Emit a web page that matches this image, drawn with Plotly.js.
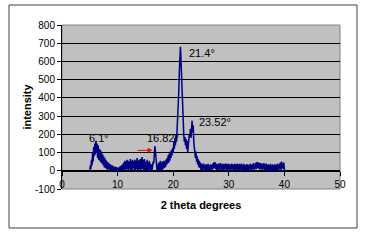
<!DOCTYPE html>
<html><head><meta charset="utf-8">
<script src="https://cdn.plot.ly/plotly-3.0.1.min.js"></script>
<style>html,body{margin:0;padding:0;background:#fff}#c{width:366px;height:242px}</style>
</head><body><div id="c"></div>
<script>
// 2-theta grid: start and step (degrees)
const thetaStart = 5.0;
const thetaStep = 0.1;
// intensity values from 5.0 to 40.0 degrees, step 0.1
const intensity = [
0,30,10,60,30,100,50,130,80,150,
90,165,100,150,70,140,60,120,55,115,
45,105,40,90,30,80,20,70,15,60,
10,50,5,45,10,40,0,35,5,30,
0,28,5,25,0,20,3,22,0,18,
0,15,0,20,5,25,0,30,5,35,
0,45,5,55,10,50,0,60,10,55,
5,50,10,65,5,55,0,60,15,50,
5,60,0,55,10,70,5,55,0,60,
10,65,5,55,75,10,60,0,65,15,
0,50,5,60,0,45,0,55,10,40,
0,35,0,30,50,40,100,135,110,60,
10,0,35,5,45,0,30,55,5,45,
0,50,10,55,15,50,20,60,30,70,
40,85,45,95,55,105,70,115,85,125,
100,160,120,180,140,195,160,220,240,330,
430,540,630,680,610,520,390,300,235,200,
160,185,140,175,120,165,100,150,160,200,
190,230,180,240,275,210,250,160,140,100,
70,105,50,80,35,65,20,55,15,45,
5,40,0,35,10,40,0,30,5,35,
0,35,5,38,0,30,5,36,0,32,
5,40,10,45,15,48,10,40,5,35,
0,38,5,40,10,42,0,35,8,40,
5,36,0,38,10,40,3,35,5,38,
8,36,0,34,5,40,10,35,0,36,
5,38,2,35,8,40,0,34,6,38,
0,35,8,40,0,32,5,38,0,30,
0,34,5,37,0,30,4,35,8,38,
2,32,6,38,10,42,5,36,12,45,
10,48,15,45,12,44,8,42,10,40,
5,38,10,42,0,35,8,40,0,34,
4,36,0,32,6,38,0,30,5,35,
0,32,4,36,0,30,5,38,2,34,
6,40,10,45,5,50,15,40,10,45,
5
];
// peak labels
const peakLabels = ["6.1°", "16.82°", "21.4°", "23.52°"];
const peakLabelX = [6.65, 18.2, 25.2, 27.5];
const peakLabelY = [181, 181, 648, 269];
const xTicks = [0, 10, 20, 30, 40, 50];
const yTicks = [-100, 0, 100, 200, 300, 400, 500, 600, 700, 800];

const trace = {
  type: 'scatter', mode: 'lines',
  x0: thetaStart, dx: thetaStep, y: intensity,
  line: {color: '#000080', width: 1.5},
  hoverinfo: 'skip'
};

const font = {family: 'Liberation Sans, Arial, sans-serif', size: 10, color: '#000'};
const annotations = peakLabels.map((t, i) => ({
  text: t, x: peakLabelX[i], y: peakLabelY[i], xref: 'x', yref: 'y',
  showarrow: false, font: {family: font.family, size: 11, color: '#000'}
}));
annotations.push({
  text: '', x: 16.3, y: 112, ax: 13.3, ay: 112, axref: 'x', ayref: 'y',
  xref: 'x', yref: 'y', showarrow: true, arrowhead: 2, arrowsize: 1,
  arrowwidth: 1, arrowcolor: '#ff0000'
});

const layout = {
  width: 366, height: 242,
  margin: {l: 62, r: 26, t: 25, b: 53, pad: 0},
  paper_bgcolor: '#ffffff', plot_bgcolor: '#c0c0c0',
  showlegend: false, font: font,
  xaxis: {
    range: [0, 50], tickvals: xTicks, ticktext: xTicks.map(String),
    anchor: 'free', position: 100/900,
    showline: true, linecolor: '#000', linewidth: 1,
    ticks: 'outside', ticklen: 4, tickcolor: '#000',
    showgrid: false, zeroline: false,
    title: {text: '2 theta degrees', font: {family: font.family, size: 11, color: '#000', weight: 'bold'}, standoff: 12},
    tickfont: font
  },
  yaxis: {
    range: [-100, 800], tickvals: yTicks, ticktext: yTicks.map(String),
    showline: true, linecolor: '#000', linewidth: 1,
    ticks: 'outside', ticklen: 4, tickcolor: '#000',
    showgrid: true, gridcolor: '#000', gridwidth: 1, zeroline: false,
    title: {text: 'intensity', font: {family: font.family, size: 11, color: '#000', weight: 'bold'}, standoff: 1},
    tickfont: font
  },
  shapes: [
    {type: 'rect', xref: 'paper', yref: 'paper', x0: 0, x1: 1, y0: 0, y1: 1,
     line: {color: '#808080', width: 1}, layer: 'below'},
    {type: 'rect', xref: 'paper', yref: 'paper', x0: -0.1906, x1: 1.0612, y0: -0.2378, y1: 1.122,
     line: {color: '#404040', width: 1}, fillcolor: 'rgba(0,0,0,0)'}
  ],
  annotations: annotations
};

Plotly.newPlot('c', [trace], layout, {staticPlot: true, displayModeBar: false});
</script></body></html>
